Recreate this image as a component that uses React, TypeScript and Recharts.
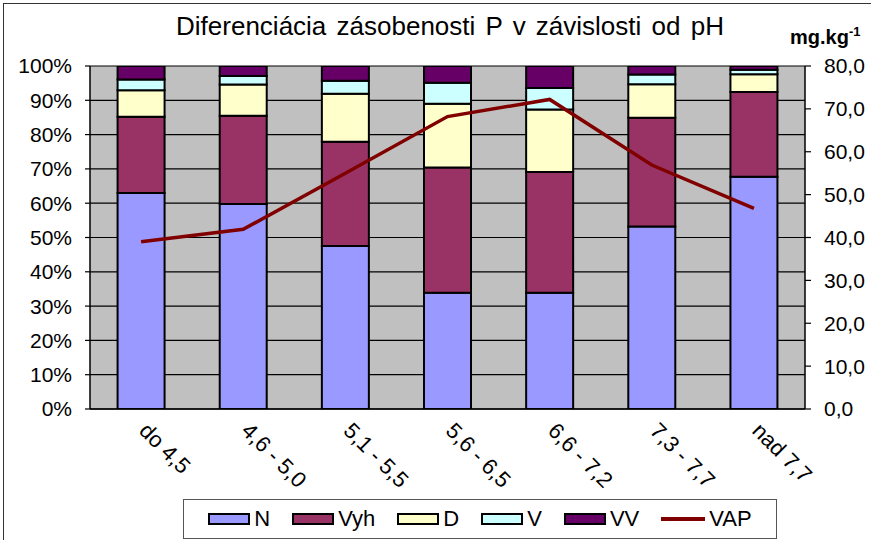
import React from "react";
import { ComposedChart, Bar, Line, XAxis, YAxis, CartesianGrid, Legend } from "recharts";

const categories = ["do 4,5", "4,6 - 5,0", "5,1 - 5,5", "5,6 - 6,5", "6,6 - 7,2", "7,3 - 7,7", "nad 7,7"];
const N = [63.0, 59.8, 47.5, 33.9, 33.9, 53.2, 67.7];
const Vyh = [22.2, 25.7, 30.4, 36.5, 35.2, 31.7, 24.7];
const D = [7.7, 9.1, 14.0, 18.6, 18.2, 9.8, 5.2];
const V = [3.2, 2.5, 3.8, 6.1, 6.3, 2.8, 1.3];
const VV = [3.9, 2.9, 4.3, 4.9, 6.4, 2.5, 1.1];
const VAP = [39.0, 41.9, 55.0, 68.2, 72.2, 56.9, 46.8];
const leftTicks = [0, 10, 20, 30, 40, 50, 60, 70, 80, 90, 100];
const rightTicks = [0, 10, 20, 30, 40, 50, 60, 70, 80];

const data = categories.map((c, i) => ({
  name: c,
  N: N[i],
  Vyh: Vyh[i],
  D: D[i],
  V: V[i],
  VV: VV[i],
  VAP: VAP[i],
}));

const FONT = "'Liberation Sans', Arial, sans-serif";

const legendItems = [
  { name: "N", color: "#9999FF", type: "box" },
  { name: "Vyh", color: "#993366", type: "box" },
  { name: "D", color: "#FFFFCC", type: "box" },
  { name: "V", color: "#CCFFFF", type: "box" },
  { name: "VV", color: "#660066", type: "box" },
  { name: "VAP", color: "#800000", type: "line" },
];

const renderLegend = () => (
  <div
    style={{
      width: 594,
      height: 40,
      boxSizing: "border-box",
      border: "1px solid #555",
      background: "#fff",
      display: "flex",
      alignItems: "center",
      justifyContent: "center",
      gap: 22,
      fontFamily: FONT,
      fontSize: 22,
      color: "#000",
    }}
  >
    {legendItems.map((it) => (
      <div key={it.name} style={{ display: "flex", alignItems: "center" }}>
        {it.type === "box" ? (
          <div
            style={{
              width: 42,
              height: 12,
              boxSizing: "border-box",
              border: "2px solid #000",
              background: it.color,
              marginRight: 4,
            }}
          />
        ) : (
          <div style={{ width: 44, height: 4, background: it.color, marginRight: 4 }} />
        )}
        <span>{it.name}</span>
      </div>
    ))}
  </div>
);

const XTick = (props: any) => {
  const { x, y, payload } = props;
  return (
    <text
      transform={`translate(${x - 3},${y + 15}) rotate(45)`}
      fontSize={22}
      fontFamily={FONT}
      fill="#000"
      textAnchor="start"
    >
      {payload.value}
    </text>
  );
};

export default function App() {
  return (
    <div
      style={{
        position: "absolute",
        left: 0,
        top: 0,
        width: 871,
        height: 540,
        background: "#fff",
        fontFamily: FONT,
        overflow: "hidden",
      }}
    >
      <div
        style={{
          position: "absolute",
          left: 3,
          top: 3,
          width: 900,
          height: 600,
          borderTop: "1.5px solid #333",
          borderLeft: "1.5px solid #333",
        }}
      />
      <div
        style={{
          position: "absolute",
          left: 0,
          width: 900,
          top: 11,
          textAlign: "center",
          fontSize: 26,
          wordSpacing: 3,
          color: "#000",
          whiteSpace: "nowrap",
        }}
      >
        Diferenciácia zásobenosti P v závislosti od pH
      </div>
      <div
        style={{
          position: "absolute",
          left: 790,
          top: 24,
          fontSize: 20,
          fontWeight: "bold",
          color: "#000",
          whiteSpace: "nowrap",
        }}
      >
        mg.kg<sup style={{ fontSize: 13 }}>-1</sup>
      </div>
      <ComposedChart
        width={871}
        height={540}
        data={data}
        margin={{ top: 66, right: 6, bottom: 101, left: 10 }}
        barCategoryGap="27%"
        style={{ position: "absolute", left: 0, top: 0 }}
      >
        <CartesianGrid
          yAxisId="left"
          vertical={false}
          stroke="#000"
          strokeWidth={1.2}
          fill="#C0C0C0"
          fillOpacity={1}
        />
        <XAxis
          dataKey="name"
          height={30}
          tick={<XTick />}
          tickLine={false}
          axisLine={{ stroke: "#000", strokeWidth: 1.5 }}
          interval={0}
        />
        <YAxis
          yAxisId="left"
          width={80}
          domain={[0, 100]}
          ticks={leftTicks}
          allowDataOverflow
          tickFormatter={(v: number) => `${v}%`}
          tick={{ fontSize: 21, fill: "#000", fontFamily: FONT }}
          tickSize={5}
          tickMargin={13}
          tickLine={{ stroke: "#000", strokeWidth: 1.2 }}
          axisLine={{ stroke: "#000", strokeWidth: 1.5 }}
        />
        <YAxis
          yAxisId="right"
          orientation="right"
          width={60}
          domain={[0, 80]}
          ticks={rightTicks}
          allowDataOverflow
          tickFormatter={(v: number) => v.toFixed(1).replace(".", ",")}
          tick={{ fontSize: 21, fill: "#000", fontFamily: FONT }}
          tickSize={6}
          tickMargin={13}
          tickLine={{ stroke: "#000", strokeWidth: 1.2 }}
          axisLine={{ stroke: "#000", strokeWidth: 1.5 }}
        />
        <Legend
          layout="horizontal"
          verticalAlign="middle"
          align="center"
          width={594}
          height={40}
          wrapperStyle={{ left: 183, top: 499, width: 594, height: 40 }}
          content={renderLegend}
        />
        <Bar yAxisId="left" dataKey="N" stackId="a" fill="#9999FF" stroke="#000" strokeWidth={2} isAnimationActive={false} />
        <Bar yAxisId="left" dataKey="Vyh" stackId="a" fill="#993366" stroke="#000" strokeWidth={2} isAnimationActive={false} />
        <Bar yAxisId="left" dataKey="D" stackId="a" fill="#FFFFCC" stroke="#000" strokeWidth={2} isAnimationActive={false} />
        <Bar yAxisId="left" dataKey="V" stackId="a" fill="#CCFFFF" stroke="#000" strokeWidth={2} isAnimationActive={false} />
        <Bar yAxisId="left" dataKey="VV" stackId="a" fill="#660066" stroke="#000" strokeWidth={2} isAnimationActive={false} />
        <Line
          yAxisId="right"
          dataKey="VAP"
          type="linear"
          stroke="#800000"
          strokeWidth={3.5}
          dot={false}
          activeDot={false}
          isAnimationActive={false}
        />
      </ComposedChart>
    </div>
  );
}
